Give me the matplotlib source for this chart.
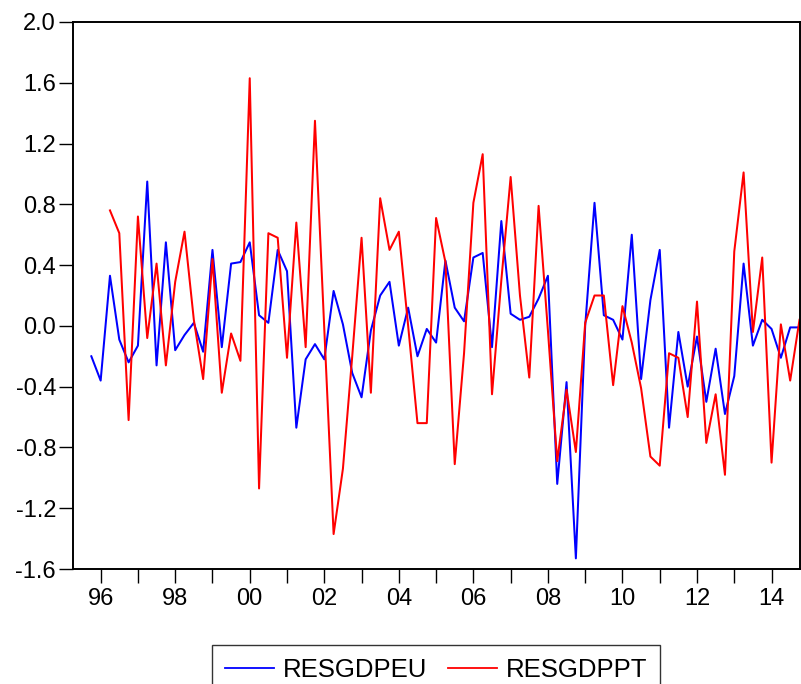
import numpy as np
import matplotlib
matplotlib.use("Agg")
import matplotlib.pyplot as plt
from matplotlib.ticker import FixedLocator, FuncFormatter

plt.rcParams['font.family'] = ['Liberation Sans', 'DejaVu Sans']

start_year = 1995.25   # 1995Q2
nan = np.nan

resgdpeu = [nan, nan,
    -0.20, -0.36, 0.33, -0.09, -0.24, -0.13, 0.95, -0.26, 0.55, -0.16,
    -0.06, 0.02, -0.17, 0.50, -0.14, 0.41, 0.42, 0.55, 0.07, 0.02,
    0.50, 0.36, -0.67, -0.22, -0.12, -0.22, 0.23, 0.01, -0.31, -0.47,
    -0.03, 0.20, 0.29, -0.13, 0.12, -0.20, -0.02, -0.11, 0.43, 0.12,
    0.03, 0.45, 0.48, -0.14, 0.69, 0.08, 0.04, 0.06, 0.18, 0.33,
    -1.04, -0.37, -1.53, 0.00, 0.81, 0.07, 0.04, -0.09, 0.60, -0.35,
    0.17, 0.50, -0.67, -0.04, -0.40, -0.07, -0.50, -0.15, -0.58, -0.33,
    0.41, -0.13, 0.04, -0.02, -0.21, -0.01, -0.01]

resgdppt = [nan, nan, nan, nan,
    0.76, 0.61, -0.62, 0.72, -0.08, 0.41, -0.26, 0.29, 0.62, 0.04,
    -0.35, 0.44, -0.44, -0.05, -0.23, 1.63, -1.07, 0.61, 0.58, -0.21,
    0.68, -0.14, 1.35, -0.02, -1.37, -0.94, -0.20, 0.58, -0.44, 0.84,
    0.50, 0.62, 0.00, -0.64, -0.64, 0.71, 0.42, -0.91, -0.18, 0.81,
    1.13, -0.45, 0.30, 0.98, 0.20, -0.34, 0.79, -0.03, -0.89, -0.42,
    -0.83, 0.02, 0.20, 0.20, -0.39, 0.13, -0.11, -0.41, -0.86, -0.92,
    -0.18, -0.21, -0.60, 0.16, -0.77, -0.45, -0.98, 0.49, 1.01, -0.04,
    0.45, -0.90, 0.01, -0.36, 0.04]

series_names = ["RESGDPEU", "RESGDPPT"]
y_ticks = [-1.6, -1.2, -0.8, -0.4, 0.0, 0.4, 0.8, 1.2, 1.6, 2.0]
year_ticks = list(range(1996, 2015))
labeled_years = list(range(1996, 2015, 2))

n = len(resgdpeu)
x = start_year + 0.25 * np.arange(n)

fig = plt.figure(figsize=(8.01, 6.84), dpi=100)
ax = fig.add_axes([72.7 / 801, 1 - 569 / 684, (799.5 - 72.7) / 801, (569 - 22) / 684])

ax.plot(x, resgdpeu, color='#0000ff', lw=1.45, label=series_names[0])
ax.plot(x, resgdppt, color='#ff0000', lw=1.45, label=series_names[1])

ax.set_xlim(x[0], x[-1])
ax.set_ylim(-1.6, 2.0)
ax.set_yticks(y_ticks)
ax.set_yticklabels([f"{v:.1f}" for v in y_ticks])

ax.xaxis.set_major_locator(FixedLocator(year_ticks))
ax.xaxis.set_major_formatter(FuncFormatter(
    lambda v, p: f"{int(round(v)) % 100:02d}" if int(round(v)) in labeled_years else ""))

ax.tick_params(axis='both', direction='out', length=10, width=1.0, colors='black',
               labelsize=17)
ax.tick_params(axis='y', pad=2)
ax.tick_params(axis='x', pad=4)
for s in ax.spines.values():
    s.set_linewidth(1.4)
    s.set_color('black')

leg = fig.legend(loc='upper center', bbox_to_anchor=(436 / 801, 1 - 645 / 684),
                 ncol=2, frameon=True, fancybox=False, edgecolor='black',
                 fontsize=18.5, handlelength=1.9, handletextpad=0.35,
                 columnspacing=0.8, borderpad=0.5, borderaxespad=0)
leg.get_frame().set_linewidth(1.0)
for line in leg.get_lines():
    line.set_linewidth(1.3)

fig.savefig("out.png", dpi=100)
